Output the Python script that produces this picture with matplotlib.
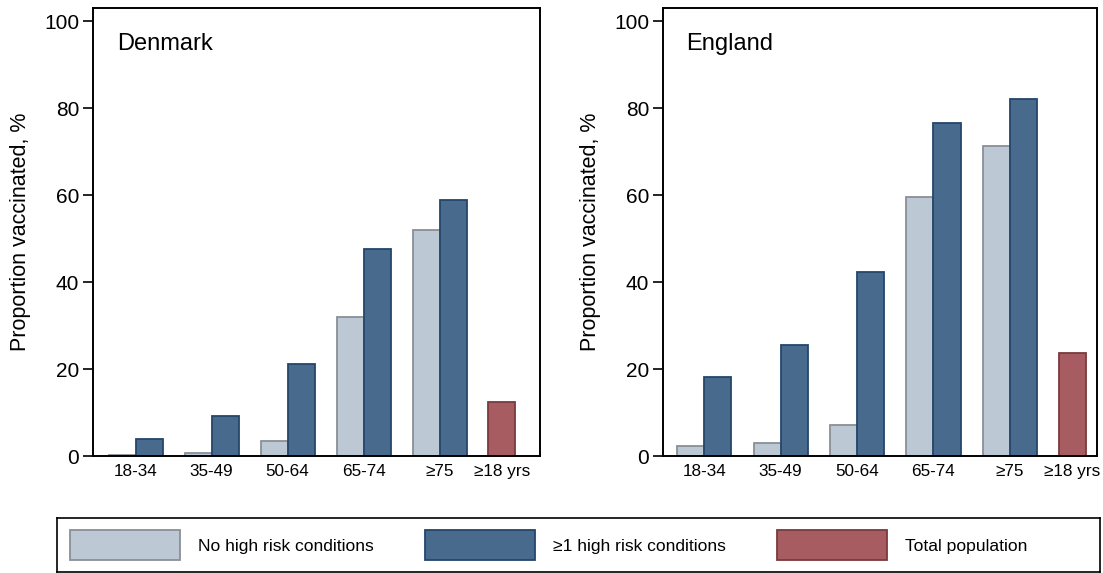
import numpy as np
import matplotlib
matplotlib.use("Agg")
import matplotlib.pyplot as plt
from matplotlib.patches import Rectangle

plt.rcParams['font.family'] = ['Liberation Sans', 'DejaVu Sans']

age_groups = ["18-34", "35-49", "50-64", "65-74", "\u226575"]
total_label = "\u226518 yrs"

dk_no_risk = [0.2, 0.8, 3.5, 32.0, 52.0]
dk_risk = [4.0, 9.3, 21.2, 47.6, 59.0]
dk_total = 12.4

en_no_risk = [2.3, 3.0, 7.2, 59.5, 71.4]
en_risk = [18.1, 25.6, 42.3, 76.7, 82.2]
en_total = 23.6

light = "#BCC8D4"
light_edge = "#8A8F96"
dark = "#486A8C"
dark_edge = "#24466B"
red = "#A65C60"
red_edge = "#7A3A3E"

panels = [
    ("Denmark", dk_no_risk, dk_risk, dk_total, [93, 447], (-0.56, 5.32)),
    ("England", en_no_risk, en_risk, en_total, [663, 434], (-0.54, 5.14)),
]

W, H = 1103, 573
fig = plt.figure(figsize=(W / 100, H / 100), dpi=100)

bw = 0.355
for name, no_risk, risk, total, (px, pw), xlim in panels:
    ax = fig.add_axes([px / W, (H - 456) / H, pw / W, (456 - 7.5) / H])
    x = np.arange(len(age_groups))
    ax.bar(x - bw / 2, no_risk, bw, color=light, edgecolor=light_edge, linewidth=1.3)
    ax.bar(x + bw / 2, risk, bw, color=dark, edgecolor=dark_edge, linewidth=1.3)
    xt = len(age_groups) - 0.18
    ax.bar([xt], [total], bw, color=red, edgecolor=red_edge, linewidth=1.3)

    ax.set_xlim(*xlim)
    ax.set_ylim(0, 103.2)
    ax.set_yticks(range(0, 101, 20))
    ax.set_xticks(list(x) + [xt])
    ax.set_xticklabels(age_groups + [total_label])
    ax.tick_params(axis='y', direction='out', length=7, width=1.2, labelsize=15, pad=3)
    ax.tick_params(axis='x', length=0, labelsize=12.3, pad=6)
    for s in ax.spines.values():
        s.set_linewidth(1.4)
    ax.set_ylabel("Proportion vaccinated, %", fontsize=15.5, labelpad=9)
    ax.text(0.054, 0.943, name, transform=ax.transAxes, fontsize=17, va='top', ha='left')

# legend box
lax = fig.add_axes([57 / W, (H - 572) / H, 1043 / W, 54 / H])
lax.set_xlim(57, 1100)
lax.set_ylim(572, 518)
lax.set_xticks([])
lax.set_yticks([])
for s in lax.spines.values():
    s.set_linewidth(1.2)

legend_items = [
    ("No high risk conditions", light, light_edge, 70),
    ("\u22651 high risk conditions", dark, dark_edge, 425),
    ("Total population", red, red_edge, 777),
]
for label, fc, ec, x0 in legend_items:
    lax.add_patch(Rectangle((x0, 530), 110, 30, facecolor=fc, edgecolor=ec, linewidth=1.3))
    lax.text(x0 + 128, 546, label, fontsize=12.6, va='center', ha='left')

fig.savefig("out.png", dpi=100)
